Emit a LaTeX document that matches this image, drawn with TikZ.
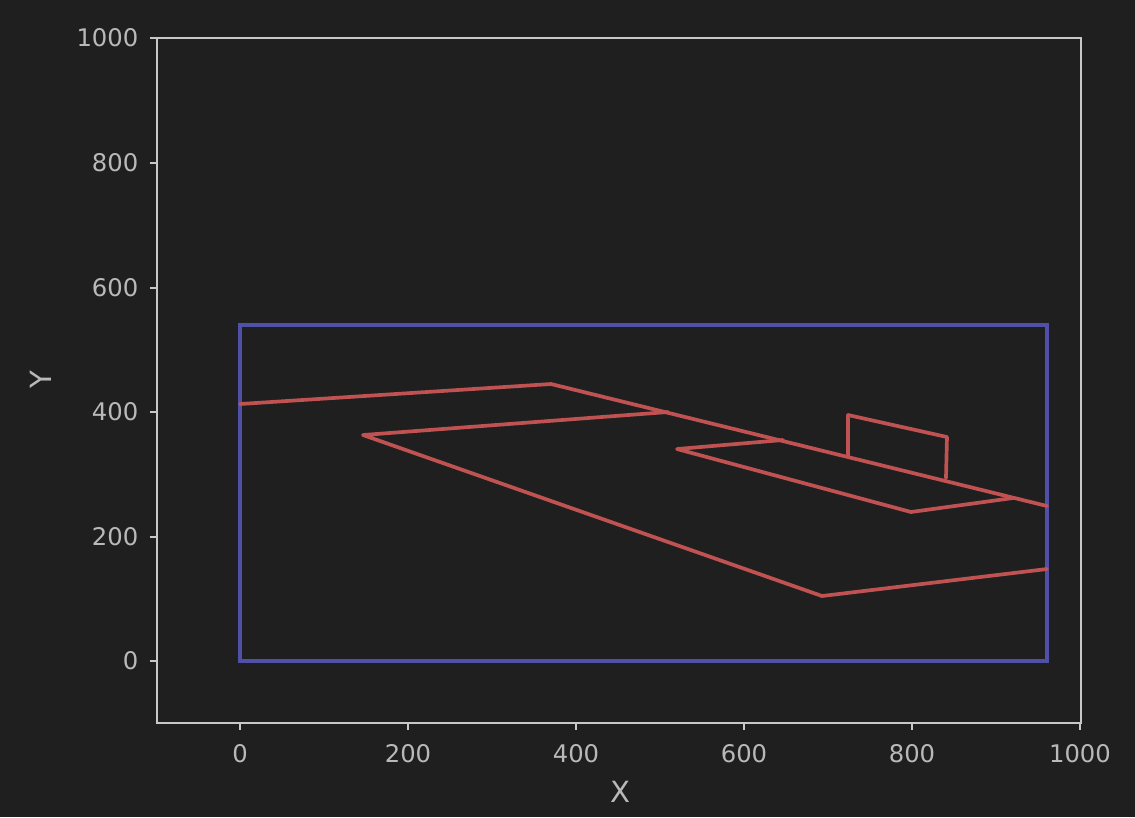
\documentclass[tikz,border=0pt]{standalone}
\usepackage{fontspec}
\setmainfont{DejaVu Sans}
\definecolor{bgc}{RGB}{31,31,31}
\definecolor{spinec}{RGB}{200,200,200}
\definecolor{tickc}{RGB}{185,185,185}
\definecolor{bluec}{RGB}{80,80,168}
\definecolor{redc}{RGB}{192,82,82}
\begin{document}
\begin{tikzpicture}[x=0.01cm,y=-0.01cm,
  spine/.style={draw=spinec,line width=0.6pt},
  tickmark/.style={draw=spinec,line width=0.6pt},
  ticklab/.style={text=tickc,inner sep=0pt,font=\fontsize{6.9pt}{8pt}\selectfont},
  axlab/.style={text=tickc,inner sep=0pt,font=\fontsize{8.3pt}{10pt}\selectfont},
  bluebox/.style={draw=bluec,line width=1.3pt},
  redline/.style={draw=redc,line width=1.05pt,line join=round,line cap=round}]
\fill[bgc] (0,0) rectangle (1135,817);
\useasboundingbox (0,0) rectangle (1135,817);
% axes frame
\draw[spine] (157,38) rectangle (1081,723);
% x ticks
\foreach \px/\lab in {240/0,408/200,576/400,744/600,912/800,1080/1000}{
  \draw[tickmark] (\px,723) -- (\px,730);
  \node[ticklab] at (\px,754) {\lab};
}
% y ticks
\foreach \py/\lab in {661/0,537/200,412/400,288/600,163/800,38/1000}{
  \draw[tickmark] (157,\py) -- (150,\py);
  \node[ticklab,anchor=east] at (139,\py) {\lab};
}
\node[axlab] (xl) at (620,792) {X};
\node[axlab,rotate=90] (yl) at (41,380) {Y};
% blue rectangle
\draw[bluebox] (240,325) rectangle (1047,661);
% red shapes
\coordinate (a) at (240,404);
\coordinate (b) at (551,384);
\coordinate (c) at (668,412);
\coordinate (d) at (1047,506);
\coordinate (e) at (363,435);
\coordinate (f) at (822,596);
\coordinate (g) at (1047,569);
\coordinate (h) at (783,440);
\coordinate (i) at (677,449);
\coordinate (j) at (911,512);
\coordinate (k) at (1013,498);
\coordinate (m1) at (848,457);
\coordinate (m2) at (848,415);
\coordinate (m3) at (947,437);
\coordinate (m4) at (946,478);
\draw[redline] (a) -- (b) -- (d);
\draw[redline] (c) -- (e) -- (f) -- (g);
\draw[redline] (h) -- (i) -- (j) -- (k);
\draw[redline] (m1) -- (m2) -- (m3) -- (m4);
\end{tikzpicture}
\end{document}
